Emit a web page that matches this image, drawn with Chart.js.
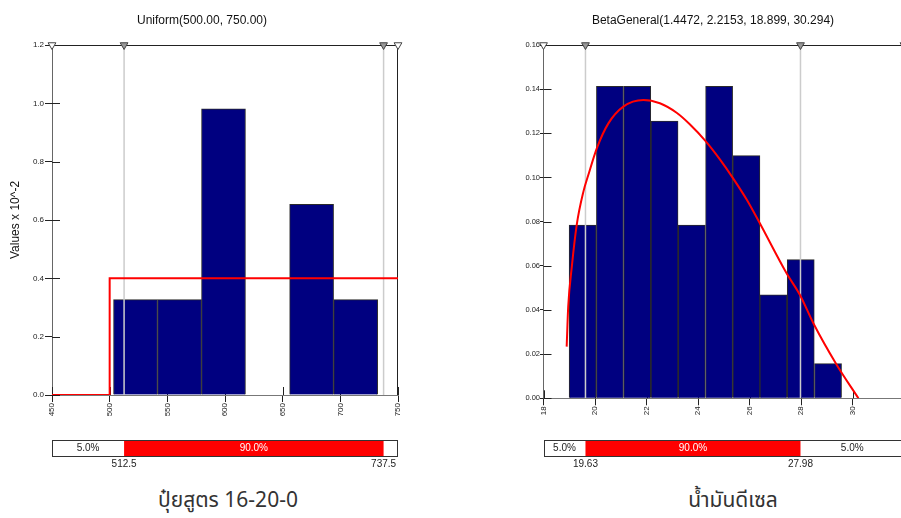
<!DOCTYPE html>
<html>
<head>
<meta charset="utf-8">
<script src="https://cdn.jsdelivr.net/npm/chart.js@4.4.1/dist/chart.umd.min.js"></script>
<style>
html, body { margin: 0; padding: 0; background: #fff; overflow: hidden; width: 901px; height: 518px; }
canvas { position: absolute; top: 0; }
#fertCanvas { left: 0; }
#dieselCanvas { left: 522px; }
.caption { position: absolute; top: 485px; width: 300px; text-align: center; font-size: 21px; color: #333;
    font-family: "Noto Sans Thai", "Loma", "Garuda", "Tlwg Typo", "Noto Sans", sans-serif; }
</style>
</head>
<body>
<canvas id="fertCanvas" width="410" height="480"></canvas>
<canvas id="dieselCanvas" width="394" height="480"></canvas>
<div class="caption" style="left:78px">ปุ๋ยสูตร 16-20-0</div>
<div class="caption" style="left:583px">น้ำมันดีเซล</div>
<script>
// left panel: ปุ๋ยสูตร 16-20-0 (values x 10^-2)
const fertTitle = "Uniform(500.00, 750.00)";
const fertBinCenters = [522.4, 560.6, 598.7, 636.9, 675.1, 713.3];
const fertBinValues = [0.327, 0.327, 0.981, 0, 0.654, 0.327];
const fertCurveX = [450, 500, 500, 750];
const fertCurveY = [0, 0, 0.4, 0.4];
const fertMarkers = [450, 512.5, 737.5, 750];
const fertPercentiles = [512.5, 737.5];
const fertPercentLabels = ["5.0%", "90.0%", "5.0%"];
const fertPercentValues = ["512.5", "737.5"];

// right panel: น้ำมันดีเซล
const dieselTitle = "BetaGeneral(1.4472, 2.2153, 18.899, 30.294)";
const dieselBinCenters = [19.52, 20.58, 21.64, 22.70, 23.76, 24.82, 25.88, 26.93, 27.99, 29.05];
const dieselBinValues = [0.0784, 0.1413, 0.1413, 0.1256, 0.0784, 0.1413, 0.1099, 0.0469, 0.0628, 0.0157];
const dieselCurveX = [18.90, 18.96, 19.10, 19.29, 19.55, 19.74, 20.07, 20.52, 21.10, 21.88, 22.52, 23.17, 23.69, 24.27, 24.85, 25.37, 25.89, 26.38, 27.44, 27.96, 28.48, 29.39, 30.23];
const dieselCurveY = [0.0234, 0.0415, 0.0596, 0.0785, 0.0936, 0.1011, 0.1132, 0.1245, 0.1321, 0.1351, 0.1336, 0.1293, 0.1240, 0.1168, 0.1082, 0.0995, 0.0900, 0.0797, 0.0566, 0.0468, 0.034, 0.0151, 0];
const dieselMarkers = [18, 19.63, 27.98, 32];
const dieselPercentiles = [19.63, 27.98];
const dieselPercentLabels = ["5.0%", "90.0%", "5.0%"];
const dieselPercentValues = ["19.63", "27.98"];

Chart.defaults.font.family = "'Liberation Sans', Arial, sans-serif";
Chart.defaults.color = "#222";

// ticks that also poke into the plot area
const innerTicks = {
    id: "innerTicks",
    beforeDatasetsDraw(chart, args, opts) {
        const ctx = chart.ctx;
        const area = chart.chartArea;
        ctx.save();
        ctx.strokeStyle = "#222";
        ctx.lineWidth = 1;
        ctx.beginPath();
        chart.scales.y.ticks.forEach(t => {
            let y = Math.round(chart.scales.y.getPixelForValue(t.value)) + 0.5;
            ctx.moveTo(area.left, y);
            ctx.lineTo(area.left + opts.len, y);
        });
        chart.scales.x.ticks.forEach(t => {
            let x = Math.round(chart.scales.x.getPixelForValue(t.value)) + 0.5;
            ctx.moveTo(x, area.bottom);
            ctx.lineTo(x, area.bottom - opts.len);
        });
        ctx.stroke();
        // top and right edge of the frame
        ctx.strokeStyle = "#222";
        ctx.beginPath();
        ctx.moveTo(area.left, Math.round(area.top) + 0.5);
        ctx.lineTo(area.right, Math.round(area.top) + 0.5);
        ctx.moveTo(Math.round(area.right) - 0.5, area.top);
        ctx.lineTo(Math.round(area.right) - 0.5, area.bottom);
        ctx.stroke();
        ctx.restore();
    }
};

// the 5% / 90% / 5% strip under the plot
const percentStrip = {
    id: "percentStrip",
    afterDraw(chart, args, opts) {
        const ctx = chart.ctx;
        const xs = chart.scales.x;
        const top = 440, h = 16;
        const edges = [xs.min].concat(opts.percentiles, [xs.max]).map(v => xs.getPixelForValue(v));
        ctx.save();
        ctx.fillStyle = "#fff";
        ctx.fillRect(edges[0], top, edges[3] - edges[0], h);
        ctx.fillStyle = "#ff0000";
        ctx.fillRect(edges[1], top, edges[2] - edges[1], h);
        ctx.strokeStyle = "#333";
        ctx.lineWidth = 1;
        ctx.strokeRect(Math.round(edges[0]) + 0.5, top + 0.5, Math.round(edges[3] - edges[0]) - 1, h);
        ctx.font = "10px 'Liberation Sans', Arial, sans-serif";
        ctx.textAlign = "center";
        ctx.textBaseline = "middle";
        for (let i = 0; i < 3; i++) {
            let w = edges[i + 1] - edges[i];
            if (w < 30) continue;
            ctx.fillStyle = i === 1 ? "#fff" : "#222";
            ctx.fillText(opts.labels[i], (edges[i] + edges[i + 1]) / 2, top + h / 2 + 0.5);
        }
        ctx.fillStyle = "#222";
        opts.values.forEach((txt, i) => {
            ctx.fillText(txt, edges[i + 1], top + h + 8);
        });
        ctx.restore();
    }
};

function makePanel(canvasId, p) {
    let datasets = [];
    datasets.push({
        type: "bar",
        data: p.binCenters.map((x, i) => ({x: x, y: p.binValues[i]})),
        backgroundColor: "#000080",
        borderColor: "#2a2a2a",
        borderWidth: 1,
        barPercentage: 1,
        categoryPercentage: 1,
        order: 4
    });
    p.percentiles.forEach(v => {
        datasets.push({
            type: "line",
            data: [{x: v, y: 0}, {x: v, y: p.yMax}],
            borderColor: "#cccccc",
            borderWidth: 1.5,
            pointRadius: 0,
            order: 3
        });
    });
    datasets.push({
        type: "line",
        data: p.curveX.map((x, i) => ({x: x, y: p.curveY[i]})),
        borderColor: "#ff0000",
        borderWidth: 2,
        pointRadius: 0,
        cubicInterpolationMode: p.smooth ? "monotone" : "default",
        tension: 0,
        order: 2
    });
    datasets.push({
        type: "line",
        data: p.markers.map(x => ({x: x, y: p.yMax})),
        showLine: false,
        pointStyle: "triangle",
        rotation: 180,
        pointRadius: 4.5,
        pointBackgroundColor: p.markers.map(x => p.percentiles.includes(x) ? "#999999" : "#ffffff"),
        pointBorderColor: "#444",
        pointBorderWidth: 1,
        clip: false,
        order: 1
    });

    const config = {
        type: "bar",
        data: {datasets: datasets},
        options: {
            responsive: false,
            animation: false,
            events: [],
            layout: {padding: {left: p.padLeft, right: 12, top: 0, bottom: p.padBottom}},
            plugins: {
                legend: {display: false},
                tooltip: {enabled: false},
                title: {
                    display: true,
                    text: p.title,
                    color: "#111",
                    font: {size: 12, weight: "normal"},
                    padding: {top: 13, bottom: 17.6}
                },
                innerTicks: {len: p.innerLen},
                percentStrip: {percentiles: p.percentiles, labels: p.percentLabels, values: p.percentValues}
            },
            scales: {
                x: {
                    type: "linear",
                    min: p.xMin,
                    max: p.xMax,
                    offset: false,
                    ticks: {stepSize: p.xStep, minRotation: 90, maxRotation: 90, autoSkip: false, padding: 1, font: {size: 8}},
                    grid: {drawOnChartArea: false, offset: false, tickLength: 7, color: "#222"},
                    border: {color: "#777"},
                    afterFit: s => { s.height = 30; }
                },
                y: {
                    min: 0,
                    max: p.yMax,
                    ticks: {stepSize: p.yStep, padding: p.yLabelPad, font: {size: p.yFont},
                        callback: v => v.toFixed(p.yDec)},
                    grid: {drawOnChartArea: false, tickLength: p.yTickLen, color: "#222"},
                    border: {color: "#666"},
                    title: {display: !!p.yTitle, text: p.yTitle, color: "#111", font: {size: 12}, padding: {top: 2, bottom: 0}},
                    afterFit: s => { s.width = p.yWidth; }
                }
            }
        },
        plugins: [innerTicks, percentStrip]
    };
    return new Chart(document.getElementById(canvasId), config);
}

makePanel("fertCanvas", {
    title: fertTitle,
    binCenters: fertBinCenters,
    binValues: fertBinValues,
    curveX: fertCurveX,
    curveY: fertCurveY,
    smooth: false,
    markers: fertMarkers,
    percentiles: fertPercentiles,
    percentLabels: fertPercentLabels,
    percentValues: fertPercentValues,
    xMin: 450, xMax: 750, xStep: 50,
    yMax: 1.2, yStep: 0.2, yDec: 1, yFont: 8,
    yTitle: "Values x 10^-2",
    padLeft: 6, yWidth: 46, padBottom: 55,
    yTickLen: 7, yLabelPad: 1, innerLen: 8
});

makePanel("dieselCanvas", {
    title: dieselTitle,
    binCenters: dieselBinCenters,
    binValues: dieselBinValues,
    curveX: dieselCurveX,
    curveY: dieselCurveY,
    smooth: true,
    markers: dieselMarkers,
    percentiles: dieselPercentiles,
    percentLabels: dieselPercentLabels,
    percentValues: dieselPercentValues,
    xMin: 18, xMax: 32, xStep: 2,
    yMax: 0.16, yStep: 0.02, yDec: 2, yFont: 7.5,
    yTitle: "",
    padLeft: 0, yWidth: 21.5, padBottom: 51.7,
    yTickLen: 3.5, yLabelPad: 0, innerLen: 8
});
</script>
</body>
</html>
